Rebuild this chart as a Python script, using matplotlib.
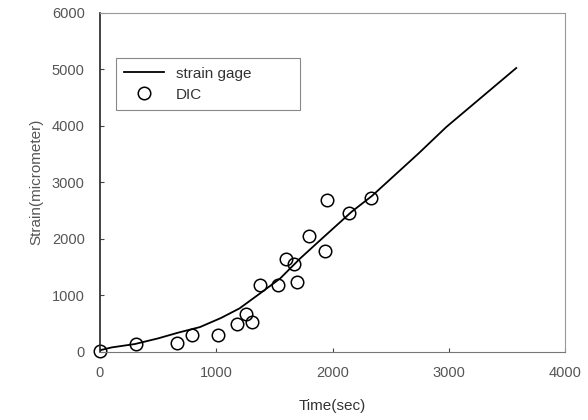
import matplotlib.pyplot as plt

plt.rcParams['font.family'] = ['Liberation Sans', 'DejaVu Sans']

# strain gage curve
gage_t = [0, 100, 300, 500, 670, 860, 1040, 1200, 1380, 1550, 1720, 1880, 2165, 2340, 2740, 2980, 3580]
gage_s = [30, 80, 140, 240, 340, 440, 600, 770, 1040, 1300, 1650, 1950, 2480, 2760, 3510, 3980, 5020]

# DIC measurements
dic_t = [0, 308, 664, 789, 1011, 1182, 1254, 1311, 1376, 1533, 1600, 1665, 1695, 1795, 1932, 1952, 2145, 2328]
dic_s = [20, 135, 150, 298, 298, 503, 667, 532, 1187, 1187, 1635, 1560, 1245, 2058, 1777, 2679, 2451, 2719]

fig = plt.figure(figsize=(5.88, 4.20), dpi=100)
ax = fig.add_axes([0.170, 0.162, 0.791, 0.808])

ax.plot(gage_t, gage_s, color='black', lw=1.3, label='strain gage')
ax.plot(dic_t, dic_s, 'o', mfc='none', mec='black', ms=9, mew=1.1,
        linestyle='none', label='DIC', clip_on=False)

ax.set_xlim(0, 4000)
ax.set_ylim(0, 6000)
ax.set_xticks([0, 1000, 2000, 3000, 4000])
ax.set_yticks([0, 1000, 2000, 3000, 4000, 5000, 6000])
ax.tick_params(direction='in', length=3, labelsize=10.5, labelcolor='#555555',
               color='#444444')
ax.tick_params(axis='x', pad=10)
ax.tick_params(axis='y', pad=11)

for side in ['top', 'right']:
    ax.spines[side].set_color('#999999')
    ax.spines[side].set_linewidth(0.8)
ax.spines['bottom'].set_color('#777777')
ax.spines['left'].set_color('#222222')
ax.spines['left'].set_linewidth(1.2)

ax.set_xlabel('Time(sec)', fontsize=11, color='#333333', labelpad=14)
ax.set_ylabel('Strain(micrometer)', fontsize=11, color='#555555', labelpad=6)

leg = ax.legend(loc='upper left', bbox_to_anchor=(0.034, 0.703, 0.396, 0.162),
                mode='expand', fontsize=11, fancybox=False, edgecolor='#888888',
                framealpha=1, handlelength=2.6, borderpad=0.55, labelspacing=0.45,
                borderaxespad=0)
leg.get_frame().set_linewidth(0.8)
for t in leg.get_texts():
    t.set_color('#333333')

fig.savefig('out.png', dpi=100)
